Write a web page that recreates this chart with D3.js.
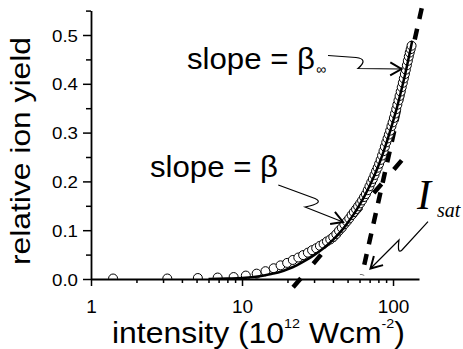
<!DOCTYPE html>
<html>
<head>
<meta charset="utf-8">
<script src="https://cdn.jsdelivr.net/npm/d3@7"></script>
<style>
  body { margin: 0; background: #fff; }
  text { font-family: "Liberation Sans", Arial, Helvetica, sans-serif; fill: #000; }
</style>
</head>
<body>
<script>
// measured ion yield (open circles)
const intensity = [1.4, 3.2, 5.1, 6.9, 8.8, 10.6, 12.5, 14.3, 16.2, 18.0, 19.9, 21.7, 23.6, 25.4, 27.3, 29.1,
  31.0, 32.8, 34.7, 36.5, 38.4, 40.2, 42.1, 43.9, 45.8, 47.6, 49.5, 51.3, 53.2, 55.0, 56.9, 58.7, 60.6, 62.4,
  64.3, 66.1, 68.0, 69.8, 71.7, 73.5, 75.4, 77.2, 79.1, 80.9, 82.8, 84.6, 86.5, 88.3, 90.2, 92.0, 93.9, 95.7,
  97.6, 99.4, 101.3, 103.1, 105.0, 106.8, 108.7, 110.5, 112.4, 114.2, 116.1, 117.9, 119.8, 121.6, 123.5,
  125.3, 127.2, 129.0, 130.9, 132.7];
const ionYield = [0.001, 0.001, 0.002, 0.003, 0.004, 0.007, 0.011, 0.016, 0.022, 0.028, 0.033, 0.039, 0.044,
  0.049, 0.054, 0.059, 0.063, 0.068, 0.072, 0.077, 0.081, 0.086, 0.092, 0.099, 0.105, 0.112, 0.118, 0.124,
  0.131, 0.137, 0.143, 0.149, 0.155, 0.161, 0.168, 0.174, 0.182, 0.190, 0.198, 0.205, 0.213, 0.221, 0.228,
  0.236, 0.244, 0.253, 0.262, 0.271, 0.280, 0.288, 0.296, 0.304, 0.313, 0.321, 0.330, 0.339, 0.348, 0.357,
  0.366, 0.375, 0.384, 0.393, 0.402, 0.411, 0.420, 0.429, 0.438, 0.447, 0.456, 0.464, 0.471, 0.478];

// fitted curve (solid line)
const fitIntensity = [6, 8, 10, 12, 14, 16, 18, 20, 23, 26, 30, 35, 40, 45, 50, 55, 60, 65, 70, 75, 80, 85,
  90, 95, 100, 105, 110, 115, 120, 125, 130, 134];
const fitYield = [0, 0.001, 0.002, 0.004, 0.007, 0.011, 0.015, 0.020, 0.028, 0.037, 0.049, 0.064, 0.080,
  0.097, 0.115, 0.133, 0.152, 0.171, 0.191, 0.211, 0.232, 0.254, 0.277, 0.300, 0.323, 0.346, 0.370, 0.394,
  0.418, 0.443, 0.468, 0.488];

// tangent lines (dashed): slope = beta and slope = beta_inf
const tangentBetaI = [21.8, 117];
const tangentBetaY = [-0.017, 0.247];
const tangentInfI = [154.9, 62.3];
const tangentInfY = [0.555, 0.008];

// axis ticks
const xMajor = [1, 10, 100];
const xMinor = [2, 3, 4, 5, 6, 7, 8, 9, 20, 30, 40, 50, 60, 70, 80, 90];
const yMajor = [0, 0.1, 0.2, 0.3, 0.4, 0.5];
const yMinor = [0.05, 0.15, 0.25, 0.35, 0.45, 0.55];

const width = 463, height = 349;
const svg = d3.select("body").append("svg")
  .attr("width", width)
  .attr("height", height);

const x = d3.scaleLog().domain([1, 148.6]).range([91, 419]);
const y = d3.scaleLinear().domain([0, 0.55]).range([279, 10.6]);

svg.append("clipPath").attr("id", "plotClip")
  .append("rect")
  .attr("x", 91).attr("y", 0)
  .attr("width", width - 91).attr("height", 279);

// tangent lines
const straight = d3.line().x((d) => x(d[0])).y((d) => y(d[1]));
svg.append("path")
  .attr("d", straight(d3.zip(tangentBetaI, tangentBetaY)))
  .attr("fill", "none")
  .attr("stroke", "#000")
  .attr("stroke-width", 4.5)
  .attr("stroke-dasharray", "12,19");
svg.append("path")
  .attr("d", straight(d3.zip(tangentInfI, tangentInfY)))
  .attr("fill", "none")
  .attr("stroke", "#000")
  .attr("stroke-width", 4.5)
  .attr("stroke-dasharray", "11,10");

const plot = svg.append("g").attr("clip-path", "url(#plotClip)");

// data circles
plot.selectAll("circle.pt")
  .data(d3.zip(intensity, ionYield))
  .enter()
  .append("circle")
  .attr("class", "pt")
  .attr("cx", (d) => x(d[0]))
  .attr("cy", (d) => y(d[1]))
  .attr("r", 4.5)
  .attr("fill", "#fff")
  .attr("stroke", "#000")
  .attr("stroke-width", 1);

// fit curve
plot.append("path")
  .attr("d", d3.line().curve(d3.curveMonotoneX)
    .x((d) => x(d[0])).y((d) => y(d[1]))(d3.zip(fitIntensity, fitYield)))
  .attr("fill", "none")
  .attr("stroke", "#000")
  .attr("stroke-width", 2.5);

// axes
function styleAxis(g) {
  g.select(".domain").attr("stroke-width", 1.8);
  g.selectAll(".tick line").attr("stroke-width", 1.5);
}

svg.append("g")
  .attr("transform", "translate(0,279)")
  .call(d3.axisBottom(x).tickValues(xMinor).tickSize(4).tickSizeOuter(0).tickFormat(""))
  .call(styleAxis);
const xAxisMajor = svg.append("g")
  .attr("transform", "translate(0,279)")
  .call(d3.axisBottom(x).tickValues(xMajor).tickSize(7).tickSizeOuter(0).tickFormat(d3.format("d")))
  .call(styleAxis);
xAxisMajor.select(".domain").remove();
xAxisMajor.selectAll("text")
  .attr("y", 34)
  .attr("dy", 0)
  .style("font-size", "19px")
  .style("font-family", "Liberation Sans, Arial, sans-serif");

svg.append("g")
  .attr("transform", "translate(91,0)")
  .call(d3.axisLeft(y).tickValues(yMinor).tickSize(5).tickSizeOuter(0).tickFormat(""))
  .call(styleAxis);
const yAxisMajor = svg.append("g")
  .attr("transform", "translate(91,0)")
  .call(d3.axisLeft(y).tickValues(yMajor).tickSize(8).tickSizeOuter(0).tickPadding(5).tickFormat(d3.format(".1f")))
  .call(styleAxis);
yAxisMajor.select(".domain").remove();
yAxisMajor.selectAll("text")
  .attr("dy", "0.36em")
  .style("font-size", "17px")
  .style("font-family", "Liberation Sans, Arial, sans-serif")
  .attr("textLength", 26)
  .attr("lengthAdjust", "spacingAndGlyphs");

// axis titles
svg.append("text")
  .attr("transform", "translate(30,151) rotate(-90)")
  .attr("text-anchor", "middle")
  .style("font-size", "28px")
  .attr("textLength", 228)
  .attr("lengthAdjust", "spacingAndGlyphs")
  .text("relative ion yield");

const xTitle = svg.append("text")
  .attr("x", 112)
  .attr("y", 343)
  .style("font-size", "29px")
  .attr("textLength", 293)
  .attr("lengthAdjust", "spacingAndGlyphs");
xTitle.append("tspan").text("intensity (10");
xTitle.append("tspan").attr("dy", -15).style("font-size", "13px").text("12");
xTitle.append("tspan").attr("dy", 15).text(" Wcm");
xTitle.append("tspan").attr("dy", -15).style("font-size", "13px").text("-2");
xTitle.append("tspan").attr("dy", 15).text(")");

// annotations
function arrowHead(tip, from, len = 13) {
  const a = Math.atan2(from[1] - tip[1], from[0] - tip[0]);
  const spread = Math.PI / 6;
  const p1 = [tip[0] + len * Math.cos(a + spread), tip[1] + len * Math.sin(a + spread)];
  const p2 = [tip[0] + len * Math.cos(a - spread), tip[1] + len * Math.sin(a - spread)];
  return `M${p1[0]},${p1[1]} L${tip[0]},${tip[1]} L${p2[0]},${p2[1]}`;
}

const notes = svg.append("g").attr("class", "notes");

notes.append("text")
  .attr("x", 187).attr("y", 69)
  .style("font-size", "29px")
  .attr("textLength", 128)
  .attr("lengthAdjust", "spacingAndGlyphs")
  .text("slope = β");
notes.append("text")
  .attr("x", 316).attr("y", 74)
  .style("font-size", "14px")
  .text("∞");
notes.append("text")
  .attr("x", 150).attr("y", 177)
  .style("font-size", "29px")
  .attr("textLength", 128)
  .attr("lengthAdjust", "spacingAndGlyphs")
  .text("slope = β");

const isat = notes.append("text")
  .attr("x", 417).attr("y", 209)
  .style("font-family", "Liberation Serif, Times New Roman, serif")
  .style("font-style", "italic");
isat.append("tspan").style("font-size", "42px").text("I");
isat.append("tspan").attr("x", 437).attr("y", 217).style("font-size", "20px").text("sat");

const arrows = [
  { d: "M328,55.5 L356,57.5 Q369,59 358,68.5 L401.5,69", tip: [401.5, 69], from: [358, 68.5] },
  { d: "M278.3,185 L315,198.5 Q325,203 305,207 L343,222", tip: [343, 222], from: [305, 207] },
  { d: "M428,221.7 L402,250 Q397,255 399,240 L370.5,268.5", tip: [370.5, 268.5], from: [399, 240] }
];
arrows.forEach((ar) => {
  notes.append("path")
    .attr("d", ar.d)
    .attr("fill", "none")
    .attr("stroke", "#000")
    .attr("stroke-width", 1.2);
  notes.append("path")
    .attr("d", arrowHead(ar.tip, ar.from))
    .attr("fill", "none")
    .attr("stroke", "#000")
    .attr("stroke-width", 2);
});
</script>
</body>
</html>
